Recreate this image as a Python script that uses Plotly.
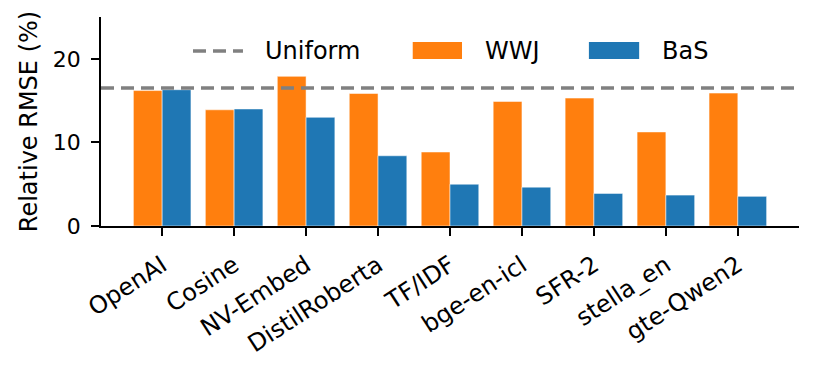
import plotly.graph_objects as go

categories = ["OpenAI", "Cosine", "NV-Embed", "DistilRoberta", "TF/IDF",
              "bge-en-icl", "SFR-2", "stella_en", "gte-Qwen2"]
wwj = [16.2, 13.9, 17.9, 15.85, 8.85, 14.9, 15.3, 11.25, 15.9]
bas = [16.3, 14.0, 13.0, 8.4, 5.0, 4.65, 3.9, 3.7, 3.55]
uniform = 16.5
y_ticks = [0, 10, 20]

ORANGE = "#ff7f0e"
BLUE = "#1f77b4"
FONT = "DejaVu Sans"

fig = go.Figure()
fig.add_trace(go.Bar(x=categories, y=wwj, name="WWJ", marker_color=ORANGE,
                     marker_line=dict(color="rgba(255,255,255,0.5)", width=1)))
fig.add_trace(go.Bar(x=categories, y=bas, name="BaS", marker_color=BLUE,
                     marker_line=dict(color="rgba(255,255,255,0.5)", width=1)))

# Uniform reference line
fig.add_shape(type="line", xref="paper", yref="y", x0=0, x1=1, y0=uniform, y1=uniform,
              line=dict(color="#808080", width=3.5, dash="13px,7px"), layer="above")

# Manual legend (matplotlib style)
leg_y = 0.837
fig.add_shape(type="line", xref="paper", yref="paper", x0=0.1318, x1=0.2034,
              y0=leg_y, y1=leg_y, line=dict(color="#808080", width=3.5, dash="13px,7px"))
fig.add_shape(type="rect", xref="paper", yref="paper", x0=0.4466, x1=0.5172,
              y0=0.799, y1=0.880, fillcolor=ORANGE, line=dict(width=0))
fig.add_shape(type="rect", xref="paper", yref="paper", x0=0.699, x1=0.771,
              y0=0.799, y1=0.880, fillcolor=BLUE, line=dict(width=0))
for txt, xp in [("Uniform", 0.232), ("WWJ", 0.547), ("BaS", 0.801)]:
    fig.add_annotation(text=txt, xref="paper", yref="paper", x=xp, y=leg_y,
                       xanchor="left", yanchor="middle", showarrow=False,
                       font=dict(family=FONT, size=24, color="black"))

# page body has an 8px margin: compensate so the plot area lands at x 101-799, y 17-226
fig.update_layout(
    width=809, height=366,
    margin=dict(l=93, r=18, t=9, b=148, autoexpand=False),
    barmode="group", bargap=0.2, bargroupgap=0,
    plot_bgcolor="white", paper_bgcolor="white",
    showlegend=False,
    font=dict(family=FONT, size=23, color="black"),
)
fig.update_xaxes(range=[-0.85, 8.85], showline=True, linecolor="black", linewidth=1.8,
                 ticks="outside", ticklen=8, tickwidth=1.8, tickcolor="black",
                 tickangle=-33, showgrid=False, zeroline=False, automargin=False,
                 ticklabelstandoff=6,
                 tickfont=dict(family=FONT, size=24))
fig.update_yaxes(range=[0, 25], tickvals=y_ticks, showline=True, linecolor="black",
                 linewidth=1.8, ticks="outside", ticklen=8, tickwidth=1.8,
                 tickcolor="black", showgrid=False, zeroline=False, automargin=False,
                 ticklabelstandoff=6,
                 title=dict(text="Relative RMSE (%)", font=dict(family=FONT, size=24),
                            standoff=8),
                 tickfont=dict(family=FONT, size=22))

fig.write_html("out.html")
